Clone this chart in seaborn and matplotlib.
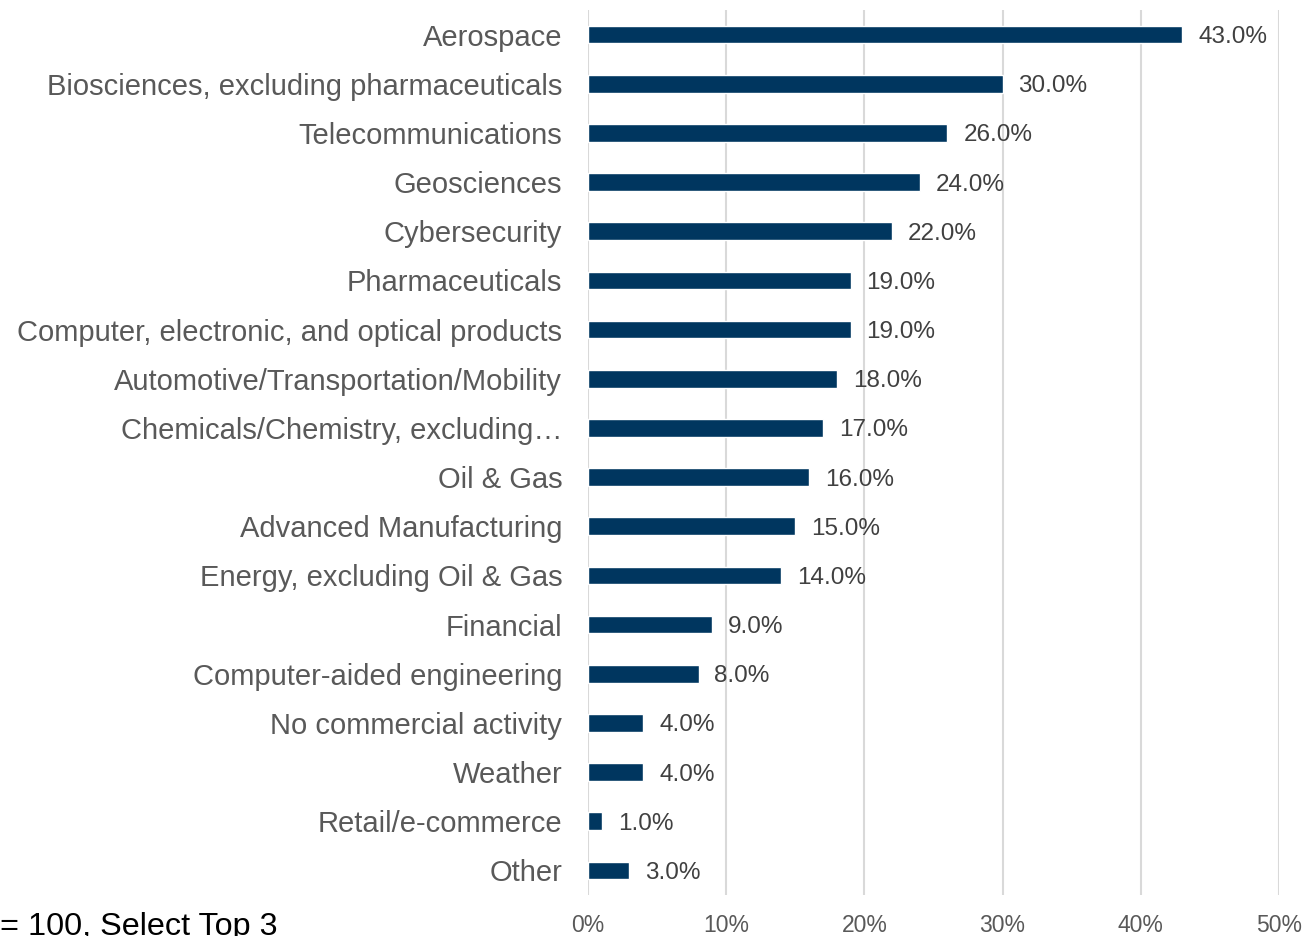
import matplotlib
matplotlib.use("Agg")
import matplotlib.pyplot as plt
import seaborn as sns
import pandas as pd

categories = [
    "Aerospace",
    "Biosciences, excluding pharmaceuticals",
    "Telecommunications",
    "Geosciences",
    "Cybersecurity",
    "Pharmaceuticals",
    "Computer, electronic, and optical products",
    "Automotive/Transportation/Mobility",
    "Chemicals/Chemistry, excluding\u2026",
    "Oil & Gas",
    "Advanced Manufacturing",
    "Energy, excluding Oil & Gas",
    "Financial",
    "Computer-aided engineering",
    "No commercial activity",
    "Weather",
    "Retail/e-commerce",
    "Other",
]
shares = [43.0, 30.0, 26.0, 24.0, 22.0, 19.0, 19.0, 18.0, 17.0,
          16.0, 15.0, 14.0, 9.0, 8.0, 4.0, 4.0, 1.0, 3.0]
x_ticks = [0, 10, 20, 30, 40, 50]
x_tick_labels = ["0%", "10%", "20%", "30%", "40%", "50%"]
footnote = "n = 100, Select Top 3"

df = pd.DataFrame({"category": categories, "share": shares})

sns.set_theme(style="white")
plt.rcParams["font.family"] = ["Liberation Sans", "DejaVu Sans"]

fig = plt.figure(figsize=(13.06, 9.36), dpi=100)
ax = fig.add_axes([0.4502, 0.0438, 0.9793 - 0.4502, 0.9893 - 0.0438])

# vertical gridlines behind the bars
for t in x_ticks:
    ax.axvline(t, color="#D9D9D9", linewidth=1.5, zorder=0)

sns.barplot(data=df, x="share", y="category", orient="h", color="#00365F",
            width=0.36, saturation=1, ax=ax, zorder=2)

for patch, v in zip(ax.patches, shares):
    y = patch.get_y() + patch.get_height() / 2
    ax.annotate(f"{v:.1f}%", xy=(v, y), xytext=(11.5, 0), textcoords="offset points",
                ha="left", va="center_baseline", fontsize=17.5, color="#404040")

ax.set_xlim(0, 50)
ax.set_ylim(len(categories) - 0.5, -0.5)
ax.set_xticks(x_ticks)
ax.set_xticklabels(x_tick_labels)
ax.tick_params(axis="x", length=0, pad=14, labelsize=16.5, labelcolor="#595959")
ax.tick_params(axis="y", length=0, pad=18.5, labelsize=21, labelcolor="#595959")
ax.set_xlabel("")
ax.set_ylabel("")
for s in ax.spines.values():
    s.set_visible(False)

fig.text(-0.0203, 0.001, footnote, ha="left", va="baseline",
         fontsize=23.3, color="#000000")

fig.savefig("out.png", dpi=100)
